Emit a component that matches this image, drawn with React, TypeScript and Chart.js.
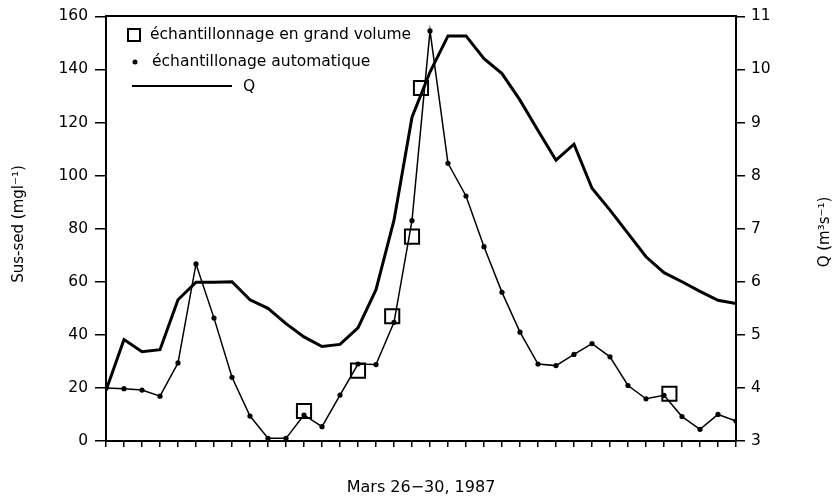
import React, { useEffect, useRef } from 'react';
import { Chart, registerables } from 'chart.js';

Chart.register(...registerables);

// sampling steps along Mars 26–30, 1987
const times = [0, 1, 2, 3, 4, 5, 6, 7, 8, 9, 10, 11, 12, 13, 14, 15, 16, 17, 18, 19, 20, 21, 22, 23, 24, 25, 26, 27, 28, 29, 30, 31, 32, 33, 34, 35];

// échantillonage automatique (mg l-1)
const autoValues = [20, 19.7, 19.2, 16.9, 29.4, 66.7, 46.3, 24, 9.4, 1, 1, 9.8, 5.4, 17.3, 29, 28.8, 44.7, 83, 154.5, 104.6, 92.3, 73.2, 56, 41, 29, 28.4, 32.6, 36.7, 31.7, 20.9, 15.9, 17.2, 9.2, 4.4, 10, 7.5];

// Q (m3 s-1)
const qValues = [3.95, 4.91, 4.68, 4.72, 5.66, 5.99, 5.99, 6.0, 5.66, 5.5, 5.21, 4.96, 4.78, 4.82, 5.13, 5.85, 7.16, 9.1, 9.95, 10.63, 10.63, 10.2, 9.92, 9.42, 8.85, 8.29, 8.59, 7.76, 7.35, 6.91, 6.47, 6.17, 6.0, 5.82, 5.65, 5.59];

// échantillonnage en grand volume
const volTimes = [11, 14, 15.9, 17, 17.5, 31.3];
const volValues = [11.3, 26.5, 47, 77, 133, 17.8];

const leftTitle = 'Sus-sed (mgl⁻¹)';
const rightTitle = 'Q (m³s⁻¹)';
const xTitle = 'Mars 26−30, 1987';
const legendLabels = ['échantillonnage en grand volume', 'échantillonage automatique', 'Q'];

const FONT = '"DejaVu Sans", sans-serif';

export default function App() {
  const ref = useRef<HTMLCanvasElement>(null);

  useEffect(() => {
    if (!ref.current) return;

    const overlay = {
      id: 'overlay',
      afterDraw(chart: any) {
        const { ctx } = chart;
        ctx.save();
        ctx.fillStyle = '#000';
        ctx.strokeStyle = '#000';
        ctx.font = `15.5px ${FONT}`;
        ctx.textBaseline = 'middle';

        // legend
        ctx.lineWidth = 2;
        ctx.strokeRect(128, 29, 12, 12);
        ctx.textAlign = 'left';
        ctx.fillText(legendLabels[0], 150, 35);
        ctx.beginPath();
        ctx.arc(135, 62, 2.5, 0, Math.PI * 2);
        ctx.fill();
        ctx.fillText(legendLabels[1], 152, 62);
        ctx.beginPath();
        ctx.moveTo(132, 86);
        ctx.lineTo(232, 86);
        ctx.stroke();
        ctx.fillText(legendLabels[2], 243, 87);

        // axis titles
        ctx.font = `15px ${FONT}`;
        ctx.textAlign = 'center';
        ctx.save();
        ctx.translate(19, 224);
        ctx.rotate(-Math.PI / 2);
        ctx.fillText(leftTitle, 0, 0);
        ctx.restore();
        ctx.save();
        ctx.translate(825, 232);
        ctx.rotate(-Math.PI / 2);
        ctx.fillText(rightTitle, 0, 0);
        ctx.restore();
        ctx.font = `16px ${FONT}`;
        ctx.fillText(xTitle, 421, 488);
        ctx.restore();
      },
    };

    const chart = new Chart(ref.current, {
      type: 'line',
      data: {
        datasets: [
          {
            label: legendLabels[0],
            data: volTimes.map((t, i) => ({ x: t, y: volValues[i] })),
            xAxisID: 'x',
            yAxisID: 'y',
            showLine: false,
            pointStyle: 'rect',
            pointRadius: 10,
            pointBorderWidth: 2,
            pointBorderColor: '#000',
            pointBackgroundColor: 'rgba(0,0,0,0)',
            borderColor: '#000',
            order: 0,
          },
          {
            label: legendLabels[1],
            data: times.map((t, i) => ({ x: t, y: autoValues[i] })),
            xAxisID: 'x',
            yAxisID: 'y',
            borderColor: '#000',
            borderWidth: 1.5,
            pointRadius: 2.6,
            pointBorderWidth: 0,
            pointBackgroundColor: '#000',
            tension: 0,
            order: 1,
          },
          {
            label: legendLabels[2],
            data: times.map((t, i) => ({ x: t, y: qValues[i] })),
            xAxisID: 'x',
            yAxisID: 'y2',
            borderColor: '#000',
            borderWidth: 3,
            pointRadius: 0,
            tension: 0,
            order: 2,
          },
        ],
      },
      options: {
        animation: false,
        responsive: false,
        layout: { padding: { top: 15, left: 0, right: 0, bottom: 0 } },
        plugins: {
          legend: { display: false },
          tooltip: { enabled: false },
          title: { display: false },
        },
        scales: {
          x: {
            type: 'linear',
            position: 'bottom',
            min: 0,
            max: 35,
            ticks: { stepSize: 1, display: false, autoSkip: false },
            grid: { drawOnChartArea: false, drawTicks: true, tickLength: 6, color: '#000', lineWidth: 1.5 },
            border: { display: true, color: '#000', width: 2 },
            afterFit: (s: any) => { s.height = 59; },
          },
          xTop: {
            type: 'linear',
            position: 'top',
            min: 0,
            max: 35,
            ticks: { display: false },
            grid: { display: false },
            border: { display: true, color: '#000', width: 2 },
            afterFit: (s: any) => { s.height = 0; },
          },
          y: {
            type: 'linear',
            position: 'left',
            min: 0,
            max: 160,
            ticks: { stepSize: 20, color: '#000', padding: 7, font: { family: FONT, size: 15.5 } },
            grid: { drawOnChartArea: false, drawTicks: true, tickLength: 11, color: '#000', lineWidth: 1.5 },
            border: { display: true, color: '#000', width: 2 },
            afterFit: (s: any) => { s.width = 106; },
          },
          y2: {
            type: 'linear',
            position: 'right',
            min: 3,
            max: 11,
            ticks: { stepSize: 1, color: '#000', padding: 6, font: { family: FONT, size: 15.5 } },
            grid: { drawOnChartArea: false, drawTicks: true, tickLength: 9, color: '#000', lineWidth: 1.5 },
            border: { display: true, color: '#000', width: 2 },
            afterFit: (s: any) => { s.width = 103; },
          },
        },
      },
      plugins: [overlay],
    });

    return () => chart.destroy();
  }, []);

  return (
    <div style={{ position: 'absolute', left: 0, top: 0, width: 839, height: 500, background: '#fff' }}>
      <canvas ref={ref} width={839} height={500} style={{ width: 839, height: 500, display: 'block' }} />
    </div>
  );
}
